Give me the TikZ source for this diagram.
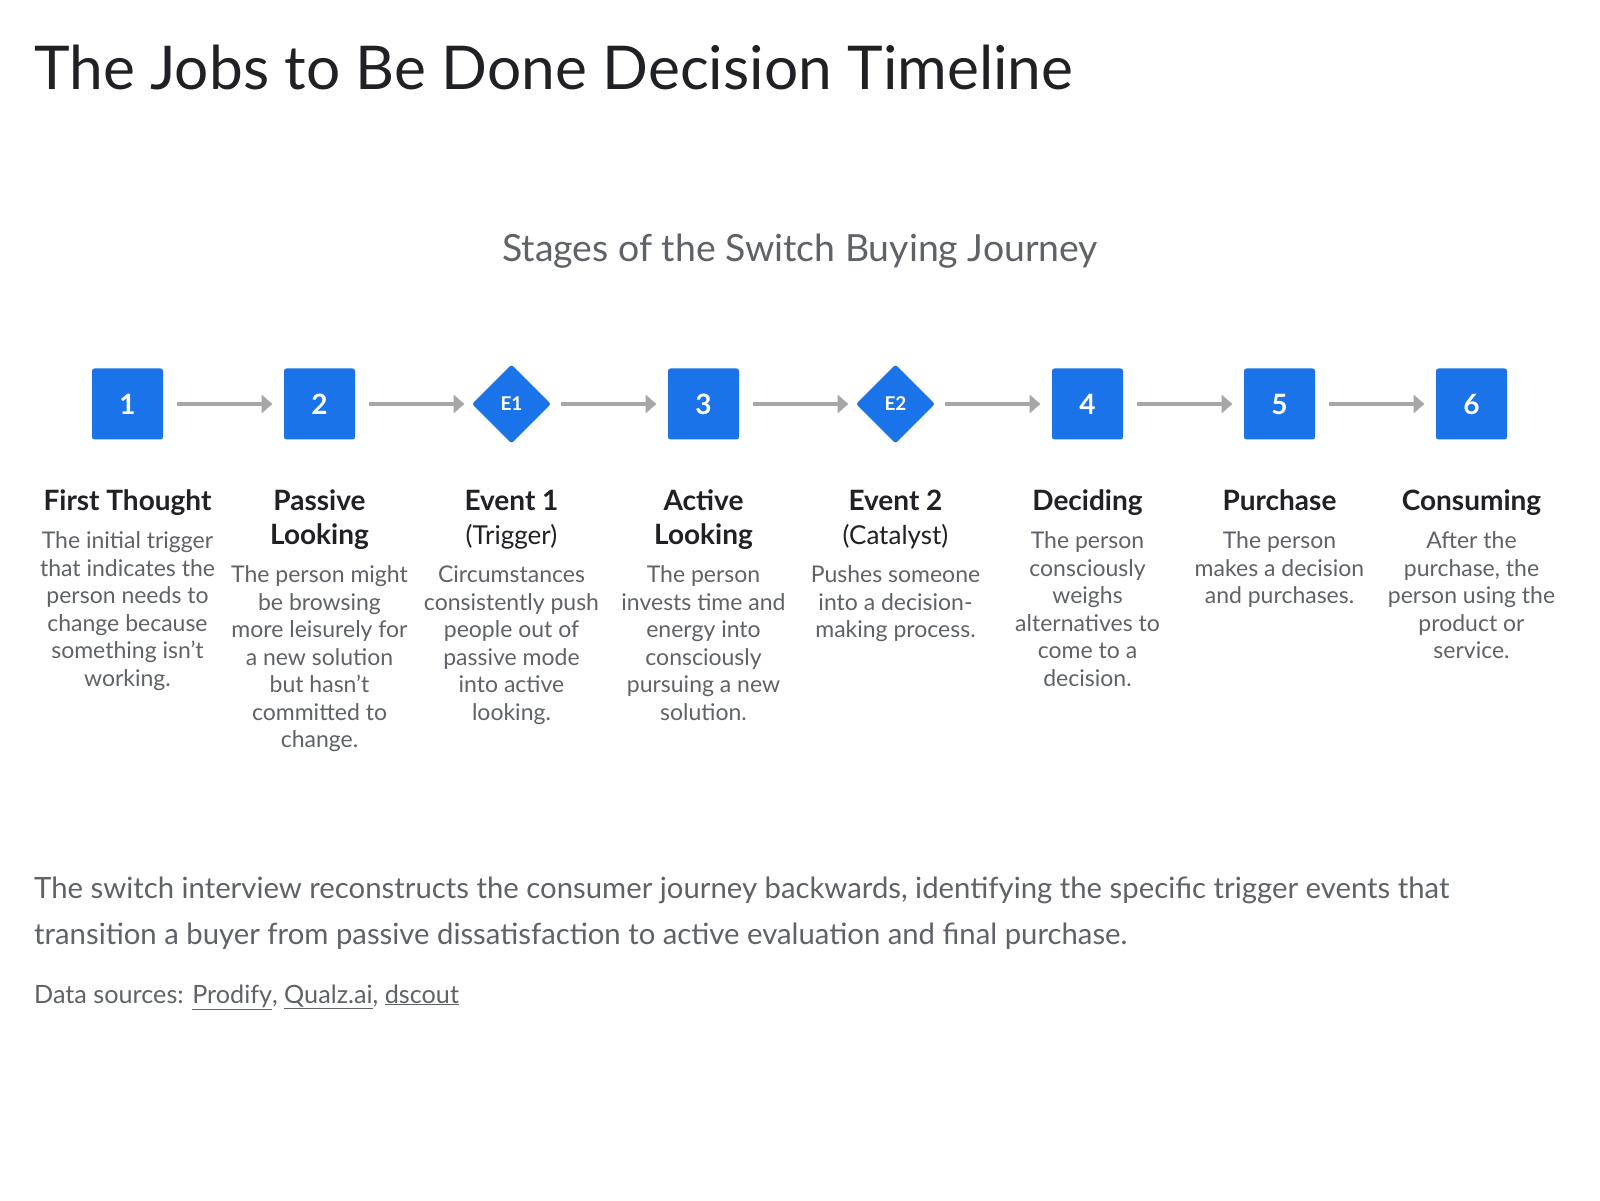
\documentclass[tikz,border=0pt]{standalone}
\usepackage{fontspec}
\setmainfont{Lato}
\usetikzlibrary{positioning,shapes.geometric,arrows.meta}
\definecolor{stepblue}{HTML}{1A73E8}
\definecolor{headink}{HTML}{202124}
\definecolor{bodyink}{HTML}{5F6368}
\definecolor{flowgray}{HTML}{A6A6A6}
\newcommand\stagelines[1]{\begin{tabular}[t]{@{}c@{}}#1\end{tabular}}

\tikzset{
  stage/.style={fill=stepblue, text=white, inner sep=0pt, rounded corners=2.5pt,
    font=\fontsize{28}{28}\selectfont\bfseries},
  flow/.style={draw=flowgray, line width=3.5pt, -{Triangle[length=11pt,width=18pt]}},
  stagehead/.style={font=\fontsize{28}{34}\selectfont\bfseries, text=headink, inner sep=0pt},
  stagetext/.style={font=\fontsize{23}{27.5}\selectfont, text=bodyink, inner sep=0pt},
}

\begin{document}
\begin{tikzpicture}[x=1pt, y=1pt]
  \useasboundingbox[fill=white] (0,0) rectangle (1600,1200);

  % heading
  \node[anchor=base west, inner sep=0pt, text=headink, font=\fontsize{60.4}{60}\selectfont]
    (title) at (34,1110) {The Jobs to Be Done Decision Timeline};
  \node[anchor=base, inner sep=0pt, text=bodyink, font=\fontsize{37.4}{38}\selectfont]
    (subtitle) at (800,938) {Stages of the Switch Buying Journey};

  % stages
  \foreach \n/\shp/\sz/\mark/\head/\body in {
    1/rectangle/71/1/{First Thought}/{The initial trigger\\that indicates the\\person needs to\\change because\\something isn't\\working.},
    2/rectangle/71/2/{Passive\\Looking}/{The person might\\be browsing\\more leisurely for\\a new solution\\but hasn't\\committed to\\change.},
    3/diamond/79/{\fontsize{19}{19}\selectfont E1}/{Event 1\\{\mdseries\fontsize{26}{34}\selectfont (Trigger)}}/{Circumstances\\consistently push\\people out of\\passive mode\\into active\\looking.},
    4/rectangle/71/3/{Active\\Looking}/{The person\\invests time and\\energy into\\consciously\\pursuing a new\\solution.},
    5/diamond/79/{\fontsize{19}{19}\selectfont E2}/{Event 2\\{\mdseries\fontsize{26}{34}\selectfont (Catalyst)}}/{Pushes someone\\into a decision-\\making process.},
    6/rectangle/71/4/{Deciding}/{The person\\consciously\\weighs\\alternatives to\\come to a\\decision.},
    7/rectangle/71/5/{Purchase}/{The person\\makes a decision\\and purchases.},
    8/rectangle/71/6/{Consuming}/{After the\\purchase, the\\person using the\\product or\\service.}}{
    \node[stage, shape=\shp, minimum size=\sz pt] (m\n) at ({127.5+192*(\n-1)}, 796) {\mark};
    \node[stagehead, anchor=north] (h\n) at ({127.5+192*(\n-1)}, 713.8) {\stagelines{\head}};
    \node[stagetext, below=8.5pt of h\n] (t\n) {\stagelines{\body}};
  }

  % connectors
  \foreach \a [count=\b from 2] in {1,...,7}
    \draw[flow] ([xshift=49pt]m\a.center) -- ([xshift=-47pt]m\b.center);

  % footnote
  \node[anchor=north west, inner sep=0pt, text=bodyink, font=\fontsize{29.3}{46}\selectfont]
    (note) at (34,333.5) {\begin{tabular}[t]{@{}l@{}}The switch interview reconstructs the consumer journey backwards, identifying the specific trigger events that\\
    transition a buyer from passive dissatisfaction to active evaluation and final purchase.\end{tabular}};
  \node[anchor=base west, inner sep=0pt, text=bodyink, font=\fontsize{25.2}{25}\selectfont]
    (sources) at (34,197) {Data sources: \underline{Prodify}, \underline{Qualz.ai}, \underline{dscout}};
\end{tikzpicture}
\end{document}
